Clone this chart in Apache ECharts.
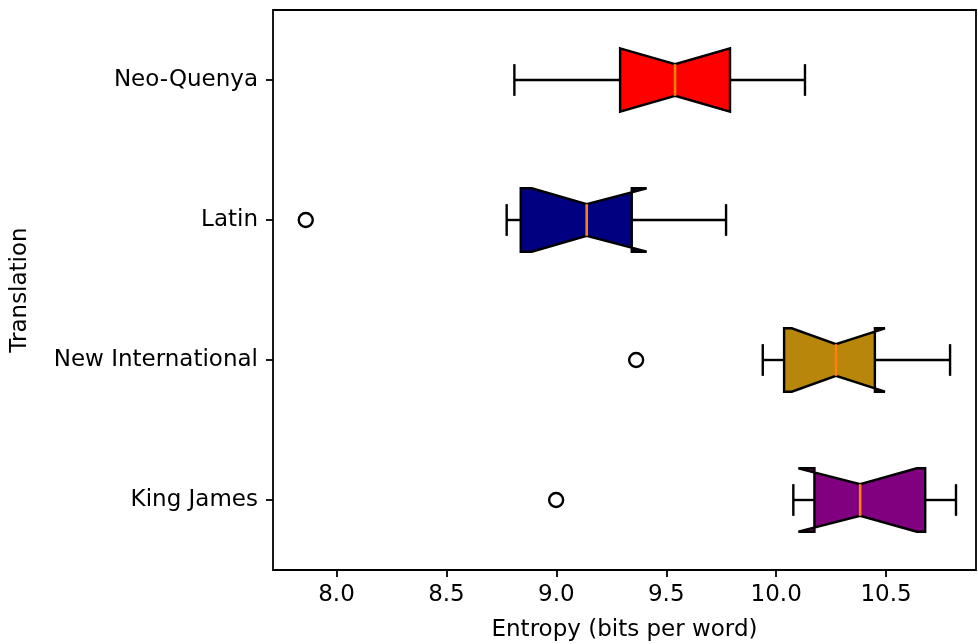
<!DOCTYPE html>
<html>
<head>
<meta charset="utf-8">
<script src="https://cdn.jsdelivr.net/npm/echarts@6/dist/echarts.min.js"></script>
<style>
html, body { margin: 0; padding: 0; background: #fff; }
#chart { width: 978px; height: 644px; }
</style>
</head>
<body>
<div id="chart"></div>
<script>
// Categories, top to bottom
const categories = ['Neo-Quenya', 'Latin', 'New International', 'King James'];
// Box statistics (bits per word)
const whiskerLow  = [8.809, 8.774, 9.939, 10.078];
const q1          = [9.290, 8.838, 10.036, 10.174];
const notchLow    = [9.290, 8.888, 10.071, 10.101];
const median      = [9.540, 9.138, 10.272, 10.382];
const notchHigh   = [9.790, 9.411, 10.495, 10.640];
const q3          = [9.790, 9.343, 10.449, 10.678];
const whiskerHigh = [10.131, 9.772, 10.791, 10.818];
// Outliers: [value, category]
const outlierValues = [7.860, 9.363, 8.999];
const outlierCats   = ['Latin', 'New International', 'King James'];
// X tick labels
const xTicks = [8.0, 8.5, 9.0, 9.5, 10.0, 10.5];

const boxColors = ['#ff0000', '#000080', '#b8860b', '#800080'];
const FONT = 'DejaVu Sans';
const FS = 23;

const boxData = categories.map((c, i) => [i, whiskerLow[i], q1[i], notchLow[i], median[i], notchHigh[i], q3[i], whiskerHigh[i]]);
const outlierData = outlierValues.map((v, i) => [v, outlierCats[i]]);

function renderItem(params, api) {
  const cat = api.value(0);
  const X = v => api.coord([v, cat])[0];
  const yc = api.coord([api.value(4), cat])[1];
  const band = api.size([0, 1])[1];
  const h = band * 0.2265;
  const n = h / 2;
  const wl = X(api.value(1)), b1 = X(api.value(2)), cl = X(api.value(3)), md = X(api.value(4)),
        ch = X(api.value(5)), b3 = X(api.value(6)), wh = X(api.value(7));
  const top = yc - h, bot = yc + h;
  const lineStyle = { stroke: '#000', lineWidth: 2.4, fill: null };
  const poly = [
    [b1, top], [cl, top], [md, top + n], [ch, top], [b3, top],
    [b3, bot], [ch, bot], [md, bot - n], [cl, bot], [b1, bot]
  ];
  return {
    type: 'group',
    children: [
      { type: 'line', shape: { x1: wl, y1: yc, x2: b1, y2: yc }, style: lineStyle },
      { type: 'line', shape: { x1: b3, y1: yc, x2: wh, y2: yc }, style: lineStyle },
      { type: 'line', shape: { x1: wl, y1: yc - n, x2: wl, y2: yc + n }, style: lineStyle },
      { type: 'line', shape: { x1: wh, y1: yc - n, x2: wh, y2: yc + n }, style: lineStyle },
      { type: 'polygon', shape: { points: poly }, style: { fill: boxColors[params.dataIndex], stroke: '#000', lineWidth: 2.4, lineJoin: 'miter', miterLimit: 4 } },
      { type: 'line', shape: { x1: md, y1: top + n, x2: md, y2: bot - n }, style: { stroke: '#ff7f0e', lineWidth: 2.6 } }
    ]
  };
}

const chart = echarts.init(document.getElementById('chart'), null, { renderer: 'canvas' });
chart.setOption({
  animation: false,
  backgroundColor: '#fff',
  grid: {
    left: 273, top: 10, width: 703, height: 560,
    containLabel: false,
    outerBoundsMode: 'none',
    show: true, borderColor: '#000', borderWidth: 1.8, backgroundColor: 'transparent'
  },
  xAxis: {
    type: 'value',
    min: 7.711, max: 10.909,
    name: 'Entropy (bits per word)',
    nameLocation: 'middle',
    nameGap: 49,
    nameTextStyle: { fontFamily: FONT, fontSize: FS, color: '#000' },
    axisLine: { show: false },
    splitLine: { show: false },
    axisTick: { show: true, length: 7, lineStyle: { color: '#000', width: 1.8 }, customValues: xTicks },
    axisLabel: { customValues: xTicks, margin: 14, fontFamily: FONT, fontSize: FS, color: '#000',
      formatter: v => Number(v).toFixed(1) }
  },
  yAxis: {
    type: 'category',
    data: categories,
    inverse: true,
    name: 'Translation',
    nameLocation: 'middle',
    nameGap: 241,
    nameTextStyle: { fontFamily: FONT, fontSize: FS, color: '#000' },
    axisLine: { show: false },
    splitLine: { show: false },
    axisTick: { show: true, alignWithLabel: true, length: 7, lineStyle: { color: '#000', width: 1.8 } },
    axisLabel: { margin: 15, fontFamily: FONT, fontSize: FS, color: '#000' }
  },
  series: [
    {
      type: 'custom',
      renderItem: renderItem,
      encode: { x: [1, 2, 3, 4, 5, 6, 7], y: 0 },
      data: boxData,
      clip: false
    },
    {
      type: 'scatter',
      data: outlierData,
      symbol: 'circle',
      symbolSize: 14,
      itemStyle: { color: 'rgba(0,0,0,0)', borderColor: '#000', borderWidth: 2.4, opacity: 1 },
      silent: true
    }
  ]
});
</script>
</body>
</html>
